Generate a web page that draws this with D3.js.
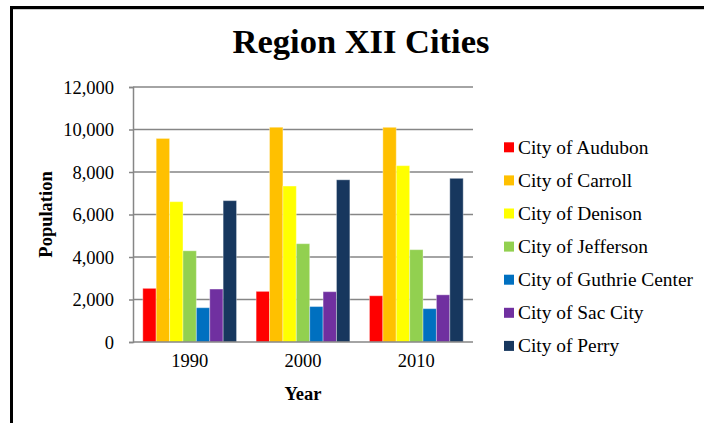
<!DOCTYPE html>
<html>
<head>
<meta charset="utf-8">
<script src="https://cdn.jsdelivr.net/npm/d3@7/dist/d3.min.js"></script>
<style>
  html, body { margin: 0; padding: 0; background: #fff; }
  svg { display: block; }
  svg text { font-family: "Liberation Serif", "Times New Roman", serif; }
</style>
</head>
<body>
<svg id="chart" width="704" height="423"></svg>
<script>
// data
const years = ["1990", "2000", "2010"];
const cities = ["City of Audubon", "City of Carroll", "City of Denison", "City of Jefferson",
  "City of Guthrie Center", "City of Sac City", "City of Perry"];
const audubon = [2524, 2382, 2176];
const carroll = [9579, 10106, 10103];
const denison = [6604, 7339, 8298];
const jefferson = [4292, 4626, 4345];
const guthrie = [1614, 1668, 1569];
const sacCity = [2492, 2368, 2220];
const perry = [6652, 7633, 7702];
const yTicks = [0, 2000, 4000, 6000, 8000, 10000, 12000];
const colors = ["#FF0000", "#FFC000", "#FFFF00", "#92D050", "#0070C0", "#7030A0", "#17375E"];

const series = [audubon, carroll, denison, jefferson, guthrie, sacCity, perry];

const svg = d3.select("#chart");
const W = 704, H = 423;
const plot = { left: 133, right: 473, top: 87, bottom: 342 };

// outer frame
svg.append("rect")
  .attr("x", 11.5).attr("y", 7.5)
  .attr("width", W + 20).attr("height", H + 20)
  .attr("fill", "none").attr("stroke", "#000").attr("stroke-width", 3);
svg.append("line")
  .attr("x1", 13).attr("x2", W).attr("y1", 9.5).attr("y2", 9.5)
  .attr("stroke", "#ccc").attr("stroke-width", 1);

const x0 = d3.scaleBand()
  .domain(years)
  .range([plot.left, plot.right])
  .paddingInner(0.173)
  .paddingOuter(0.0865);

const x1 = d3.scaleBand()
  .domain(d3.range(cities.length))
  .range([0, x0.bandwidth()]);

const y = d3.scaleLinear()
  .domain([0, 12000])
  .range([plot.bottom, plot.top]);

// gridlines
svg.append("g")
  .selectAll("line")
  .data(yTicks.filter(d => d > 0))
  .join("line")
  .attr("x1", plot.left).attr("x2", plot.right)
  .attr("y1", d => y(d)).attr("y2", d => y(d))
  .attr("stroke", "#868686").attr("stroke-width", 1.5);

// y axis
const yAxis = svg.append("g")
  .attr("transform", `translate(${plot.left},0)`)
  .call(d3.axisLeft(y).tickValues(yTicks).tickSize(4).tickPadding(15)
    .tickFormat(d3.format(",")));
yAxis.select(".domain").attr("stroke", "#868686").attr("stroke-width", 1.5);
yAxis.selectAll(".tick line").attr("stroke", "#868686").attr("stroke-width", 1.5);
yAxis.selectAll(".tick text")
  .style("font-size", "18.5px").attr("fill", "#000").attr("dy", "0.34em");

// bars
const groups = svg.append("g")
  .selectAll("g")
  .data(years)
  .join("g")
  .attr("transform", d => `translate(${x0(d)},0)`);

groups.selectAll("rect")
  .data((d, i) => series.map((s, k) => ({ k, v: s[i] })))
  .join("rect")
  .attr("x", d => x1(d.k))
  .attr("y", d => y(d.v))
  .attr("width", x1.bandwidth())
  .attr("height", d => plot.bottom - y(d.v))
  .attr("fill", d => colors[d.k])
  .attr("stroke", "rgba(255,255,255,0.35)")
  .attr("stroke-width", 1);

// x axis
const xAxis = svg.append("g")
  .attr("transform", `translate(0,${plot.bottom})`)
  .call(d3.axisBottom(x0).tickSize(0).tickPadding(12));
xAxis.select(".domain")
  .attr("d", `M${plot.left},0H${plot.right}`)
  .attr("stroke", "#868686").attr("stroke-width", 1.5);
xAxis.selectAll(".tick text")
  .style("font-size", "18.5px").attr("fill", "#000");

// titles
svg.append("text")
  .attr("x", 361).attr("y", 53)
  .attr("text-anchor", "middle")
  .style("font-size", "34.5px").style("font-weight", "bold")
  .text("Region XII Cities");

svg.append("text")
  .attr("x", (plot.left + plot.right) / 2).attr("y", 400)
  .attr("text-anchor", "middle")
  .style("font-size", "18.5px").style("font-weight", "bold")
  .text("Year");

svg.append("text")
  .attr("transform", `translate(52,${(plot.top + plot.bottom) / 2}) rotate(-90)`)
  .attr("text-anchor", "middle")
  .style("font-size", "18.5px").style("font-weight", "bold")
  .text("Population");

// legend
const legend = svg.append("g")
  .selectAll("g")
  .data(cities)
  .join("g")
  .attr("transform", (d, i) => `translate(504,${147.3 + i * 33.1})`);

legend.append("rect")
  .attr("x", 0).attr("y", -5)
  .attr("width", 10).attr("height", 10)
  .attr("fill", (d, i) => colors[i]);

legend.append("text")
  .attr("x", 14).attr("y", 6.5)
  .style("font-size", "19.4px")
  .text(d => d);
</script>
</body>
</html>
